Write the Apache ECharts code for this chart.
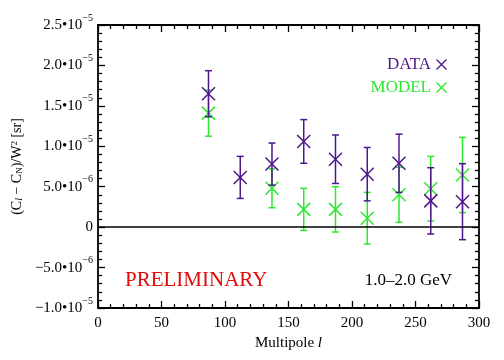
<!DOCTYPE html>
<html><head><meta charset="utf-8">
<script src="https://cdn.jsdelivr.net/npm/echarts@6/dist/echarts.min.js"></script>
<style>html,body{margin:0;padding:0;background:#fff}#c{width:504px;height:360px}</style>
</head><body><div id="c"></div>
<script>
const multipole = [87, 112, 137, 162, 187, 212, 237, 262, 287];
const dataVals  = [16.5e-6, 6.15e-6, 7.8e-6, 10.6e-6, 8.4e-6, 6.55e-6, 7.9e-6, 3.25e-6, 3.15e-6];
const dataErr   = [2.85e-6, 2.6e-6, 2.6e-6, 2.7e-6, 3.0e-6, 3.3e-6, 3.6e-6, 4.1e-6, 4.7e-6];
const modelVals = [14.1e-6, null, 4.8e-6, 2.2e-6, 2.2e-6, 1.1e-6, 4.0e-6, 4.75e-6, 6.45e-6];
const modelErr  = [2.85e-6, null, 2.4e-6, 2.6e-6, 2.8e-6, 3.2e-6, 3.4e-6, 4.0e-6, 4.65e-6];
const yTickLabels = [['\u22121.0\u202210','\u22125'],['\u22125.0\u202210','\u22126'],['0',''],['5.0\u202210','\u22126'],['1.0\u202210','\u22125'],['1.5\u202210','\u22125'],['2.0\u202210','\u22125'],['2.5\u202210','\u22125']];
const xTickLabels = ['0','50','100','150','200','250','300'];

const PURPLE = '#4f168c', GREEN = '#2ee82e', RED = '#e00a0a';
const FONT = '"Liberation Serif", "DejaVu Serif", serif';

function build(vals, errs){
  const out = [];
  for (let i = 0; i < multipole.length; i++) {
    if (vals[i] !== null) out.push([multipole[i], vals[i], errs[i]]);
  }
  return out;
}
function renderErr(color){
  return function(params, api){
    const x = api.value(0), y = api.value(1), e = api.value(2);
    const c = api.coord([x, y]), t = api.coord([x, y + e]), b = api.coord([x, y - e]);
    const cw = 3.5, m = 6.5;
    const st = {stroke: color, lineWidth: 1.5};
    return {type: 'group', children: [
      {type: 'line', shape: {x1: c[0], y1: t[1], x2: c[0], y2: b[1]}, style: st},
      {type: 'line', shape: {x1: c[0]-cw, y1: t[1], x2: c[0]+cw, y2: t[1]}, style: st},
      {type: 'line', shape: {x1: c[0]-cw, y1: b[1], x2: c[0]+cw, y2: b[1]}, style: st},
      {type: 'line', shape: {x1: c[0]-m, y1: c[1]-m, x2: c[0]+m, y2: c[1]+m}, style: st},
      {type: 'line', shape: {x1: c[0]-m, y1: c[1]+m, x2: c[0]+m, y2: c[1]-m}, style: st}
    ]};
  };
}
const XICON = 'path://M0,1L1,0L6,5L11,0L12,1L7,6L12,11L11,12L6,7L1,12L0,11L5,6Z';

const axisCommon = {
  axisLine: {show: true, onZero: false, lineStyle: {color: '#000', width: 1.8}},
  axisTick: {show: true, inside: true, length: 7, lineStyle: {color: '#000', width: 1.3}},
  minorTick: {show: true, splitNumber: 5, length: 4, lineStyle: {color: '#000', width: 1.3}},
  splitLine: {show: false}
};

const chart = echarts.init(document.getElementById('c'), null, {renderer: 'canvas'});
chart.setOption({
  animation: false,
  backgroundColor: '#fff',
  grid: {left: 98, right: 25, top: 25, bottom: 52},
  textStyle: {fontFamily: FONT},
  xAxis: [
    Object.assign({type: 'value', min: 0, max: 300, interval: 50, position: 'bottom',
      axisLabel: {margin: 8, color: '#000', fontSize: 15, fontFamily: FONT,
        formatter: v => xTickLabels[Math.round(v / 50)]},
      name: 'Multipole {i|l}', nameLocation: 'middle', nameGap: 22,
      nameTextStyle: {color: '#000', fontSize: 15, fontFamily: FONT,
        rich: {i: {fontStyle: 'italic', fontSize: 15, fontFamily: FONT, color: '#000'}}}
    }, axisCommon),
    Object.assign({type: 'value', min: 0, max: 300, interval: 50, position: 'top',
      axisLabel: {show: false}}, axisCommon)
  ],
  yAxis: [
    Object.assign({type: 'value', min: -1e-5, max: 2.5e-5, interval: 5e-6, position: 'left',
      axisLabel: {margin: 5, color: '#000', fontFamily: FONT,
        formatter: v => {
          const lab = yTickLabels[Math.round(v / 5e-6) + 2];
          return lab[1] ? '{m|' + lab[0] + '}{e|' + lab[1] + '}' : '{m|' + lab[0] + '}';
        },
        rich: {
          m: {fontSize: 15, fontFamily: FONT, color: '#000', lineHeight: 24},
          e: {fontSize: 10, fontFamily: FONT, color: '#000', lineHeight: 12, verticalAlign: 'top'}
        }},
      name: '(C{sl|l} \u2212 C{sn|N})/W{sp|2} [sr]', nameLocation: 'middle', nameRotate: 90, nameGap: 59,
      nameTextStyle: {color: '#000', fontSize: 14, fontFamily: FONT,
        rich: {
          t: {fontSize: 14, fontFamily: FONT, color: '#000'},
          sl: {fontSize: 10, fontStyle: 'italic', fontFamily: FONT, color: '#000', verticalAlign: 'bottom', lineHeight: 10},
          sn: {fontSize: 9, fontFamily: FONT, color: '#000', verticalAlign: 'bottom', lineHeight: 10},
          sp: {fontSize: 9, fontFamily: FONT, color: '#000', verticalAlign: 'top', lineHeight: 10}
        }}
    }, axisCommon),
    Object.assign({type: 'value', min: -1e-5, max: 2.5e-5, interval: 5e-6, position: 'right',
      axisLabel: {show: false}}, axisCommon)
  ],
  legend: {
    orient: 'vertical', right: 52, top: 51, align: 'right', itemGap: 6,
    itemWidth: 11, itemHeight: 11, icon: XICON,
    textStyle: {fontSize: 17, fontFamily: FONT},
    data: [
      {name: 'DATA', textStyle: {color: PURPLE}},
      {name: 'MODEL', textStyle: {color: GREEN}}
    ]
  },
  graphic: [
    {type: 'text', left: 125, top: 270, style: {text: 'PRELIMINARY', fill: RED, fontSize: 21, fontFamily: FONT}},
    {type: 'text', right: 52, top: 272, style: {text: '1.0\u20132.0 GeV', fill: '#000', fontSize: 17, fontFamily: FONT}}
  ],
  series: [
    {name: 'MODEL', type: 'custom', renderItem: renderErr(GREEN), itemStyle: {color: GREEN},
      data: build(modelVals, modelErr), encode: {x: 0, y: 1}, z: 2,
      markLine: {silent: true, symbol: 'none', label: {show: false},
        lineStyle: {color: '#000', width: 1.5, type: 'solid'}, data: [{yAxis: 0}]}},
    {name: 'DATA', type: 'custom', renderItem: renderErr(PURPLE), itemStyle: {color: PURPLE},
      data: build(dataVals, dataErr), encode: {x: 0, y: 1}, z: 3}
  ]
});
</script></body></html>
